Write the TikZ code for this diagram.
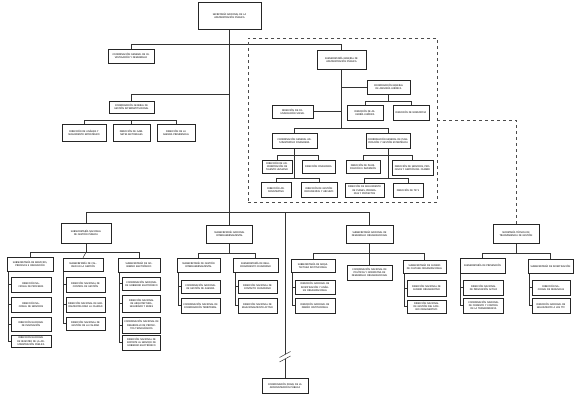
\documentclass[tikz,border=0pt]{standalone}
\usepackage{fontspec}
\setmainfont{Carlito}
\usetikzlibrary{shadows,backgrounds}
\tikzset{
  bx/.style={draw=black!85, line width=0.55pt, fill=white, align=center, inner xsep=1pt, inner ysep=0.3pt,
    font=\fontsize{2.7}{3.2}\selectfont,
    drop shadow={shadow xshift=0.7pt, shadow yshift=-0.7pt, fill=black!35}},
  dbx/.style={draw=black!70, dashed, line width=0.5pt, inner sep=0pt},
  ln/.style={draw=black!80, line width=0.5pt},
  dln/.style={draw=black!70, dashed, line width=0.5pt}
}
\newcommand{\obox}[6]{\pgfmathsetmacro{\tw}{#4-2}\node[bx, minimum width=#4pt, minimum height=#5pt, text width=\tw pt] (#1) at (#2,#3) {#6};}
\begin{document}
\begin{tikzpicture}[x=1pt,y=-1pt]
\useasboundingbox (0,0) rectangle (577,412);
% dashed group
\node[dbx, minimum width=189pt, minimum height=164pt] (dbox) at (342.5,120) {};
% top
\obox{top}{229.5}{15.5}{63}{27}{SECRETARÍA NACIONAL DE LA\\ADMINISTRACIÓN PÚBLICA}
\obox{inv}{131}{56}{46}{14}{COORDINACIÓN GENERAL DE INVESTIGACIÓN Y DESARROLLO}
\obox{gest}{131.5}{107}{45}{12}{COORDINACIÓN GENERAL DE GESTIÓN INTERINSTITUCIONAL}
\obox{K}{84}{132.5}{44}{17}{DIRECCIÓN DE ANÁLISIS Y SEGUIMIENTO ESTRATÉGICO}
\obox{L}{131.5}{132.5}{37}{17}{DIRECCIÓN DE GABINETES SECTORIALES}
\obox{M}{176}{132.5}{38}{17}{DIRECCIÓN DE LA AGENDA PRESIDENCIAL}
% inside dashed
\obox{subgen}{341.5}{59.5}{49}{19}{SUBSECRETARÍA GENERAL DE ADMINISTRACIÓN PÚBLICA}
\obox{com}{292.5}{111.5}{41}{13}{DIRECCIÓN DE COMUNICACIÓN SOCIAL}
\obox{asj}{388.5}{87}{43}{14}{COORDINACIÓN GENERAL DE ASESORÍA JURÍDICA}
\obox{dasj}{365}{112.5}{36}{15}{DIRECCIÓN DE ASESORÍA JURÍDICA}
\obox{dnorm}{411}{112.5}{36}{15}{DIRECCIÓN DE NORMATIVA}
\obox{admf}{294.5}{140.5}{45}{15}{COORDINACIÓN GENERAL ADMINISTRATIVA FINANCIERA}
\obox{plan}{388}{140.5}{44}{15}{COORDINACIÓN GENERAL DE PLANIFICACIÓN Y GESTIÓN ESTRATÉGICA}
\obox{N}{277}{166.5}{30}{13}{DIRECCIÓN DE ADMINISTRACIÓN DE TALENTO HUMANO}
\obox{O}{318.5}{166.5}{33}{13}{DIRECCIÓN FINANCIERA}
\obox{P}{276}{189.5}{30}{15}{DIRECCIÓN ADMINISTRATIVA}
\obox{Q}{319}{189.5}{36}{15}{DIRECCIÓN DE GESTIÓN DOCUMENTAL Y ARCHIVO}
\obox{R}{363}{167}{34}{13}{DIRECCIÓN DE PLANIFICACIÓN E INVERSIÓN}
\obox{S}{412.5}{167.5}{41}{15}{DIRECCIÓN DE SERVICIOS, PROCESOS Y GESTIÓN DEL CAMBIO}
\obox{T}{364.5}{190}{39}{14}{DIRECCIÓN DE SEGUIMIENTO DE PLANES, PROGRAMAS Y PROYECTOS}
\obox{U}{408}{190}{30}{14}{DIRECCIÓN DE TIC'S}
% second level
\obox{gp}{86}{233}{50}{20}{SUBSECRETARÍA NACIONAL DE GESTIÓN PÚBLICA}
\obox{ig}{229.5}{234}{46}{18}{SUBSECRETARÍA NACIONAL INTERGUBERNAMENTAL}
\obox{do}{369.5}{234}{47}{18}{SUBSECRETARÍA NACIONAL DE DESARROLLO ORGANIZACIONAL}
\obox{st}{516}{233.5}{46}{19}{SECRETARÍA TÉCNICA DE TRANSPARENCIA DE GESTIÓN}
% gestion publica
\obox{A}{30}{264}{46}{14}{SUBSECRETARÍA DE SERVICIOS, PROCESOS E INNOVACIÓN}
\obox{B}{83}{264.5}{40}{13}{SUBSECRETARÍA DE CALIDAD EN LA GESTIÓN}
\obox{C}{139}{265}{42}{14}{SUBSECRETARÍA DE GOBIERNO ELECTRÓNICO}
\obox{A1}{31}{284.5}{40}{15}{DIRECCIÓN NACIONAL DE PROCESOS}
\obox{A2}{31}{304.5}{40}{15}{DIRECCIÓN NACIONAL DE SERVICIOS}
\obox{A3}{31}{324}{40}{14}{DIRECCIÓN NACIONAL DE INNOVACIÓN}
\obox{A4}{31}{341}{40}{12}{DIRECCIÓN NACIONAL DE REGISTRO DE LA ADMINISTRACIÓN PÚBLICA}
\obox{B1}{85.5}{284.5}{39}{15}{DIRECCIÓN NACIONAL DE CONTROL DE GESTIÓN}
\obox{B2}{85.5}{304.5}{39}{15}{DIRECCIÓN NACIONAL DE HERRAMIENTAS PARA LA CALIDAD}
\obox{B3}{85.5}{323.5}{39}{13}{DIRECCIÓN NACIONAL DE GESTIÓN DE LA CALIDAD}
\obox{C1}{141.5}{283.5}{38}{13}{COORDINACIÓN NACIONAL DE GOBIERNO ELECTRÓNICO}
\obox{C2}{141.5}{303.5}{38}{17}{DIRECCIÓN NACIONAL DE ARQUITECTURA, SEGURIDAD Y REDES}
\obox{C3}{141.5}{325}{38}{16}{COORDINACIÓN NACIONAL DE DESARROLLO DE PROYECTOS TECNOLÓGICOS}
\obox{C4}{141.5}{342.5}{38}{15}{DIRECCIÓN NACIONAL DE SOPORTE AL SERVICIO DE GOBIERNO ELECTRÓNICO}
% intergubernamental
\obox{D}{198.5}{265}{43}{14}{SUBSECRETARÍA DE GESTIÓN INTERGUBERNAMENTAL}
\obox{E}{255.5}{265}{45}{14}{SUBSECRETARÍA DE RELACIONAMIENTO CIUDADANO}
\obox{D1}{200.5}{286.5}{39}{13}{COORDINACIÓN NACIONAL DE GESTIÓN DE AGENDA}
\obox{D2}{200.5}{305.5}{39}{15}{COORDINACIÓN NACIONAL DE COORDINACIÓN TERRITORIAL}
\obox{E1}{257.5}{286.5}{39}{13}{DIRECCIÓN NACIONAL DE CONTACTO CIUDADANO}
\obox{E2}{257.5}{305.5}{39}{15}{DIRECCIÓN NACIONAL DE RELACIONAMIENTO ACTIVO}
% desarrollo organizacional
\obox{F}{313}{266}{44}{13}{SUBSECRETARÍA DE ARQUITECTURA INSTITUCIONAL}
\obox{G}{369.5}{272.5}{45}{15}{COORDINACIÓN NACIONAL DE POLÍTICAS Y NORMATIVA DE DESARROLLO ORGANIZACIONAL}
\obox{H}{424.5}{266.5}{43}{13}{SUBSECRETARÍA DE CAMBIO DE CULTURA ORGANIZACIONAL}
\obox{F1}{315}{287}{40}{14}{DIRECCIÓN NACIONAL DE INVESTIGACIÓN Y ANÁLISIS ORGANIZACIONAL}
\obox{F2}{315}{305.5}{40}{15}{DIRECCIÓN NACIONAL DE DISEÑO INSTITUCIONAL}
\obox{H1}{426.5}{288}{39}{16}{DIRECCIÓN NACIONAL DE CAMBIO ORGANIZATIVO}
\obox{H2}{426.5}{306.5}{39}{13}{DIRECCIÓN NACIONAL DE GESTIÓN DEL CAMBIO ORGANIZATIVO}
% transparencia
\obox{I}{482.5}{265.5}{45}{15}{SUBSECRETARÍA DE PREVENCIÓN}
\obox{J}{550.5}{266}{45}{14}{SUBSECRETARÍA DE INVESTIGACIÓN}
\obox{I1}{483.5}{287.5}{40}{15}{DIRECCIÓN NACIONAL DE PREVENCIÓN ACTIVA}
\obox{I2}{483.5}{305.5}{40}{15}{COORDINACIÓN NACIONAL DE FOMENTO Y CONTROL DE LA TRANSPARENCIA}
\obox{J1}{551}{287.5}{38}{15}{DIRECCIÓN NACIONAL DE DENUNCIAS}
\obox{J2}{551}{305.5}{38}{15}{DIRECCIÓN NACIONAL DE SEGUIMIENTO A LOS TTC}
% zonal
\obox{zon}{285}{385.5}{46}{15}{COORDINACIÓN ZONAL DE LA ADMINISTRACIÓN PÚBLICA}

\begin{pgfonlayer}{background}
\fill[white] (0,0) rectangle (577,412);
% main trunk
\draw[ln] (top.south) -- (ig.north);
\draw[ln] (inv.north) -- ++(0,-4) -| (subgen.north);
\coordinate (j1) at (229.5,94);
\draw[ln] (gest.north) |- (j1);
\path (gest.south) ++(0,7) coordinate (gb);
\draw[ln] (K.north) |- (gb) -| (M.north);
\draw[ln] (gb) -- (L.north);
% inside dashed
\path (subgen.south) ++(0,59) coordinate (sb);
\draw[ln] (subgen.south) -- (sb);
\draw[ln] (admf.north) |- (sb) -| (plan.north);
\draw[ln] (com.east) -- (com.east -| subgen.south);
\draw[ln] (asj.west -| subgen.south) -- (asj.west);
\path (asj.south) ++(0,7) coordinate (ab);
\draw[ln] (asj.south) -- (ab);
\draw[ln] (dasj.north) |- (ab) -| (dnorm.north);
\path (admf.south) ++(0,7) coordinate (f1);
\path (admf.south) ++(0,30) coordinate (f2);
\draw[ln] (admf.south) -- (f2);
\draw[ln] (N.north) |- (f1) -| (O.north);
\draw[ln] (P.north) |- (f2) -| (Q.north);
\path (plan.south) ++(0,7) coordinate (p1);
\path (plan.south) ++(0,30) coordinate (p2);
\draw[ln] (plan.south) -- (p2);
\draw[ln] (R.north) |- (p1) -| (S.north);
\draw[ln] (T.north) |- (p2) -| (U.north);
% dashed link
\draw[dln] (dbox.east) -| (st.north);
% bottom bus
\draw[ln] (gp.north) -- ++(0,-10) -| (do.north);
\coordinate (zb) at (285,213);
\coordinate (zk1) at (285,354);
\coordinate (zk2) at (285,358.5);
\draw[ln] (zb) -- (zk1);
\draw[ln] (zk2) -- (zon.north);
\draw[ln] (279.5,357.5) -- (290.5,351.5);
\draw[ln] (279.5,362) -- (290.5,356);
% gestion publica
\path (gp.south) ++(0,9) coordinate (gpb);
\draw[ln] (gp.south) -- (gpb);
\draw[ln] (A.north) |- (gpb) -| (C.north);
\draw[ln] (gpb) -- (B.north);
\draw[ln] ([xshift=-2.5pt]A1.west |- A.south) |- (A4.west);
\foreach \k in {A1,A2,A3} \draw[ln] ([xshift=-2.5pt]\k.west) -- (\k.west);
\draw[ln] ([xshift=-2.5pt]B1.west |- B.south) |- (B3.west);
\foreach \k in {B1,B2} \draw[ln] ([xshift=-2.5pt]\k.west) -- (\k.west);
\draw[ln] ([xshift=-2.5pt]C1.west |- C.south) |- (C4.west);
\foreach \k in {C1,C2,C3} \draw[ln] ([xshift=-2.5pt]\k.west) -- (\k.west);
% intergubernamental
\path (ig.south) ++(0,10) coordinate (igb);
\draw[ln] (ig.south) -- (igb);
\draw[ln] (D.north) |- (igb) -| (E.north);
\draw[ln] ([xshift=-2.5pt]D1.west |- D.south) |- (D2.west);
\draw[ln] ([xshift=-2.5pt]D1.west) -- (D1.west);
\draw[ln] ([xshift=-2.5pt]E1.west |- E.south) |- (E2.west);
\draw[ln] ([xshift=-2.5pt]E1.west) -- (E1.west);
% desarrollo
\path (do.south) ++(0,10) coordinate (dob);
\draw[ln] (do.south) -- (G.north);
\draw[ln] (F.north) |- (dob) -| (H.north);
\draw[ln] ([xshift=-2.5pt]F1.west |- F.south) |- (F2.west);
\draw[ln] ([xshift=-2.5pt]F1.west) -- (F1.west);
\draw[ln] ([xshift=-2.5pt]H1.west |- H.south) |- (H2.west);
\draw[ln] ([xshift=-2.5pt]H1.west) -- (H1.west);
% transparencia
\path (st.south) ++(0,10) coordinate (stb);
\draw[ln] (st.south) -- (stb);
\draw[ln] (I.north) |- (stb) -| (J.north);
\draw[ln] ([xshift=-2.5pt]I1.west |- I.south) |- (I2.west);
\draw[ln] ([xshift=-2.5pt]I1.west) -- (I1.west);
\draw[ln] ([xshift=-2.5pt]J1.west |- J.south) |- (J2.west);
\draw[ln] ([xshift=-2.5pt]J1.west) -- (J1.west);
\end{pgfonlayer}
\end{tikzpicture}
\end{document}
